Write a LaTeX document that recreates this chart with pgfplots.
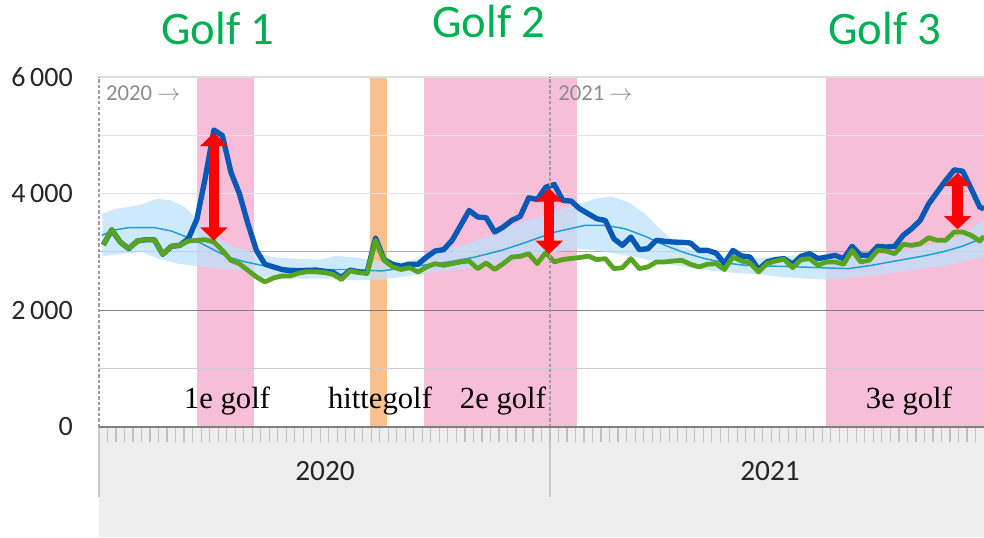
\documentclass[border=0pt]{standalone}
\usepackage{pgfplots}
\pgfplotsset{compat=1.18}
\usepackage{pgfplotstable}
\usetikzlibrary{arrows.meta}
\usepackage{fontspec}
\setmainfont{Carlito}
\newfontfamily\serifF{Liberation Serif}

\definecolor{pinkband}{RGB}{246,190,216}
\definecolor{orangeband}{RGB}{250,192,143}
\definecolor{ciband}{RGB}{190,226,250}
\definecolor{expline}{RGB}{30,158,214}
\definecolor{obsblue}{RGB}{6,90,182}
\definecolor{grn}{RGB}{88,164,32}
\definecolor{golfgreen}{RGB}{0,176,80}
\definecolor{bggray}{RGB}{238,238,238}
\definecolor{tickgray}{RGB}{192,192,192}

% week  green  blue
\pgfplotstableread{
x G B
0.5 3120 3120
1.5 3388 3380
2.5 3171 3171
3.5 3057 3057
4.5 3188 3188
5.5 3211 3211
6.5 3211 3211
7.5 2960 2960
8.5 3097 3097
9.5 3114 3114
10.5 3188 3228
11.5 3200 3560
12.5 3211 4280
13.5 3171 5092
14.5 3028 4995
15.5 2857 4370
16.5 2800 4000
17.5 2686 3485
18.5 2572 3028
19.5 2487 2790
20.5 2555 2744
21.5 2590 2700
22.5 2590 2675
23.5 2640 2680
24.5 2663 2686
25.5 2660 2690
26.5 2647 2670
27.5 2618 2650
28.5 2527 2560
29.5 2675 2690
30.5 2647 2660
31.5 2630 2650
32.5 3200 3240
33.5 2857 2870
34.5 2744 2790
35.5 2700 2755
36.5 2730 2790
37.5 2658 2790
38.5 2744 2914
39.5 2800 3017
40.5 2772 3040
41.5 2800 3200
42.5 2830 3456
43.5 2846 3712
44.5 2715 3600
45.5 2812 3587
46.5 2700 3342
47.5 2800 3427
48.5 2914 3541
49.5 2926 3610
50.5 2970 3929
51.5 2800 3900
52.5 2990 4110
53.5 2830 4157
54.5 2870 3884
55.5 2890 3872
56.5 2905 3740
57.5 2930 3655
58.5 2869 3570
59.5 2886 3540
60.5 2715 3228
61.5 2730 3114
62.5 2886 3256
63.5 2715 3040
64.5 2744 3057
65.5 2830 3200
66.5 2830 3182
67.5 2846 3171
68.5 2857 3165
69.5 2790 3154
70.5 2744 3028
71.5 2790 3028
72.5 2800 2983
73.5 2700 2800
74.5 2914 3028
75.5 2846 2932
76.5 2812 2914
77.5 2658 2700
78.5 2800 2830
79.5 2846 2869
80.5 2875 2886
81.5 2732 2790
82.5 2869 2926
83.5 2886 2971
84.5 2772 2886
85.5 2830 2914
86.5 2830 2943
87.5 2790 2886
88.5 3028 3097
89.5 2830 2943
90.5 2857 2943
91.5 3028 3097
92.5 3017 3085
93.5 2971 3097
94.5 3131 3285
95.5 3114 3400
96.5 3142 3541
97.5 3245 3826
98.5 3200 4026
99.5 3200 4226
100.5 3342 4408
101.5 3342 4385
102.5 3285 4083
103.5 3188 3770
104 3268 3740
}\weekly

% expected (thin line)
\pgfplotstableread{
x E
0.3 3285
1.9 3380
3.45 3416
6.6 3416
8.5 3360
10.1 3268
12.1 3142
13.6 3028
15.2 2914
17.2 2830
19.1 2772
21.5 2730
23.9 2710
26 2700
29.3 2700
33.2 2675
37.1 2755
41.1 2830
44.2 2914
47.3 3028
49.7 3142
51.9 3256
53.6 3342
57.1 3456
59.5 3456
61.8 3400
64.2 3268
66.5 3114
68.9 2983
71.2 2886
73.6 2812
75.9 2772
78 2760
80 2755
85.9 2725
88.1 2715
90.8 2772
93.6 2846
96.7 2926
99.1 3000
101.4 3097
103 3188
104 3256
}\expected

% band polygon: upper edge forward, lower edge back
\pgfplotstableread{
x y
0.4 3655
1.9 3740
3.45 3770
5 3815
6.8 3912
8.5 3884
10.1 3770
11.7 3540
12.9 3370
14.4 3200
16 3085
17.9 3000
20.3 2915
23 2886
26 2870
27.7 2932
29.7 2914
32.4 2857
34.8 2812
36.8 2857
38.7 2971
41.1 3057
43.4 3142
45.8 3268
48.1 3427
50.1 3541
51.9 3598
53.6 3712
55.9 3798
58.3 3912
60.2 3952
62.2 3855
64.2 3655
66.1 3370
67.7 3171
69.7 3028
72 2960
74.8 2914
77.7 2900
81.8 2943
84.9 2943
88.1 2914
91.2 2914
94 3000
96.7 3085
99.1 3171
101.4 3285
103 3456
104 3570
104 2914
102.2 2857
99.8 2772
96.7 2715
92.8 2630
88.9 2572
85.5 2527
83 2545
80.2 2572
77.7 2618
74.8 2640
71.6 2686
68.9 2744
66.1 2812
63 2914
60.6 2971
58.3 3028
55.9 3057
53.6 3000
51.9 2971
49.3 2886
46.6 2800
43.8 2730
41.1 2686
38.3 2630
35.6 2572
33.2 2527
29.7 2515
27.7 2545
26 2545
23.9 2545
21.5 2545
19.1 2572
16.8 2686
14.4 2715
12.1 2744
9.3 2800
7 2886
5 3000
2.7 2970
0.4 2926
}\band

\tikzset{redarr/.style={red, line width=8pt,
  arrows={Triangle[width=20pt,length=10pt]-Triangle[width=20pt,length=10pt]}}}

\begin{document}
\begin{tikzpicture}
\begin{axis}[
  scale only axis, width=663.75pt, height=262.5pt,
  xmin=0, xmax=104, ymin=0, ymax=6000,
  clip=false,
  hide x axis,
  axis y line*=left,
  y axis line style={draw=none},
  ytick={0,2000,4000,6000},
  yticklabels={0,2\,000,4\,000,6\,000},
  ytick style={draw=none},
  /pgf/number format/assume math mode=true,
  yticklabel style={font=\fontsize{21}{24}\selectfont, text=black!85, inner sep=0pt, xshift=-19.5pt},
]
% grey category area below the plot
\fill[bggray] (axis cs:0,0) rectangle (axis cs:104,-1886);
\draw[black!22, line width=0.8pt] (axis cs:0,0) -- (axis cs:0,-1200);
\draw[black!22, line width=0.8pt] (axis cs:53,0) -- (axis cs:53,-1200);
% weekly tick marks
\addplot[ycomb, draw=tickgray, line width=0.9pt] coordinates {
(1,-265) (2,-265) (3,-265) (4,-265) (5,-265) (6,-265) (7,-265) (8,-265) (9,-265) (10,-265)
(11,-265) (12,-265) (13,-265) (14,-265) (15,-265) (16,-265) (17,-265) (18,-265) (19,-265) (20,-265)
(21,-265) (22,-265) (23,-265) (24,-265) (25,-265) (26,-265) (27,-265) (28,-265) (29,-265) (30,-265)
(31,-265) (32,-265) (33,-265) (34,-265) (35,-265) (36,-265) (37,-265) (38,-265) (39,-265) (40,-265)
(41,-265) (42,-265) (43,-265) (44,-265) (45,-265) (46,-265) (47,-265) (48,-265) (49,-265) (50,-265)
(51,-265) (52,-265) (53,-265) (54,-265) (55,-265) (56,-265) (57,-265) (58,-265) (59,-265) (60,-265)
(61,-265) (62,-265) (63,-265) (64,-265) (65,-265) (66,-265) (67,-265) (68,-265) (69,-265) (70,-265)
(71,-265) (72,-265) (73,-265) (74,-265) (75,-265) (76,-265) (77,-265) (78,-265) (79,-265) (80,-265)
(81,-265) (82,-265) (83,-265) (84,-265) (85,-265) (86,-265) (87,-265) (88,-265) (89,-265) (90,-265)
(91,-265) (92,-265) (93,-265) (94,-265) (95,-265) (96,-265) (97,-265) (98,-265) (99,-265) (100,-265)
(101,-265) (102,-265) (103,-265)};
% wave bands
\addplot[draw=none, fill=pinkband] coordinates {(11.48,0) (11.48,6000) (18.25,6000) (18.25,0)} -- cycle;
\addplot[draw=none, fill=orangeband] coordinates {(31.8,0) (31.8,6000) (33.8,6000) (33.8,0)} -- cycle;
\addplot[draw=none, fill=pinkband] coordinates {(38.23,0) (38.23,6000) (56.2,6000) (56.2,0)} -- cycle;
\addplot[draw=none, fill=pinkband] coordinates {(85.43,0) (85.43,6000) (104,6000) (104,0)} -- cycle;
% grid lines
\draw[black!20, line width=0.75pt] (axis cs:0,1000) -- (axis cs:104,1000);
\draw[black!50, line width=0.75pt] (axis cs:0,2000) -- (axis cs:104,2000);
\draw[black!33, line width=0.75pt] (axis cs:0,3000) -- (axis cs:104,3000);
\draw[black!11, line width=0.75pt] (axis cs:0,4000) -- (axis cs:104,4000);
\draw[black!11, line width=0.75pt] (axis cs:0,5000) -- (axis cs:104,5000);
\draw[black!13, line width=0.9pt] (axis cs:0,6000) -- (axis cs:104,6000);
% prediction band
\addplot[draw=none, fill=ciband, fill opacity=0.75] table[x=x, y=y] {\band} -- cycle;
% expected line
\addplot[expline, line width=1.1pt] table[x=x, y=E] {\expected};
% observed
\addplot[obsblue, line width=4pt, line join=round] table[x=x, y=B] {\weekly};
\addplot[grn, line width=3.6pt, line join=round] table[x=x, y=G] {\weekly};
% year separators
\draw[black!38, line width=1pt, dash pattern=on 2.5pt off 1.6pt] (axis cs:0,0) -- (axis cs:0,6000);
\draw[black!38, line width=1pt, dash pattern=on 2.5pt off 1.6pt] (axis cs:53,0) -- (axis cs:53,6000);
% red difference arrows
\addplot[redarr] coordinates {(13.5,3194) (13.5,5045)};
\addplot[redarr] coordinates {(52.9,2965) (52.9,4091)};
\addplot[redarr] coordinates {(100.9,3388) (100.9,4359)};
% zero axis line
\draw[black!50, line width=1.5pt] (axis cs:0,0) -- (axis cs:104,0);
% texts
\node[anchor=base, inner sep=0pt, text=golfgreen, font=\fontsize{35}{40}\selectfont] at (axis cs:13.98,6549) {Golf 1};
\node[anchor=base, inner sep=0pt, text=golfgreen, font=\fontsize{35}{40}\selectfont] at (axis cs:45.83,6669) {Golf 2};
\node[anchor=base, inner sep=0pt, text=golfgreen, font=\fontsize{35}{40}\selectfont] at (axis cs:92.36,6549) {Golf 3};
\node[anchor=base west, inner sep=0pt, text=black!45, font=\fontsize{17}{20}\selectfont] at (axis cs:0.82,5605) {2020 $\rightarrow$};
\node[anchor=base west, inner sep=0pt, text=black!45, font=\fontsize{17}{20}\selectfont] at (axis cs:53.94,5605) {2021 $\rightarrow$};
\node[anchor=base, inner sep=0pt, font=\serifF\fontsize{23}{27}\selectfont] at (axis cs:15.04,309) {1e golf};
\node[anchor=base, inner sep=0pt, font=\serifF\fontsize{23}{27}\selectfont] at (axis cs:33.02,309) {hittegolf};
\node[anchor=base, inner sep=0pt, font=\serifF\fontsize{23}{27}\selectfont] at (axis cs:47.47,309) {2e golf};
\node[anchor=base, inner sep=0pt, font=\serifF\fontsize{23}{27}\selectfont] at (axis cs:95.18,309) {3e golf};
\node[anchor=base, inner sep=0pt, text=black!85, font=\fontsize{22}{26}\selectfont] at (axis cs:26.56,-909) {2020};
\node[anchor=base, inner sep=0pt, text=black!85, font=\fontsize{22}{26}\selectfont] at (axis cs:78.85,-909) {2021};
\end{axis}
\pgfresetboundingbox
\path[use as bounding box] ([xshift=-74.25pt,yshift=-83.25pt]current axis.south west) rectangle ([yshift=57.75pt]current axis.north east);
\end{tikzpicture}
\end{document}
